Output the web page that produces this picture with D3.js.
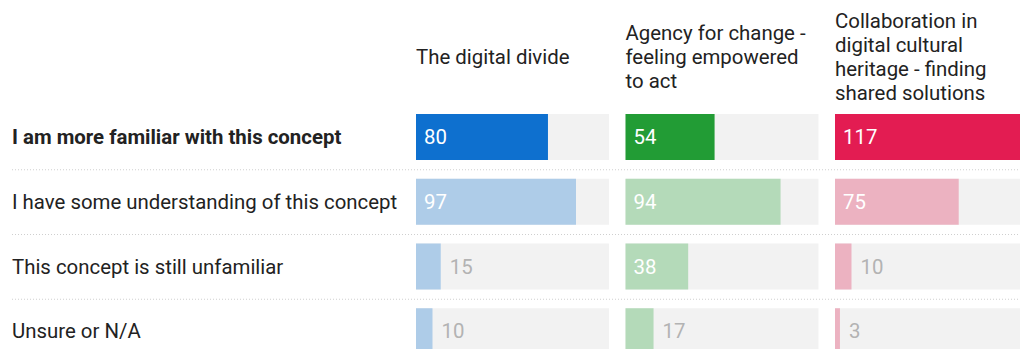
<!DOCTYPE html>
<html>
<head>
<meta charset="utf-8">
<script src="https://cdn.jsdelivr.net/npm/d3@7"></script>
<style>
  html, body { margin: 0; padding: 0; background: #fff; }
  svg { display: block; font-family: Roboto, "Noto Sans", sans-serif; }
</style>
</head>
<body>
<svg id="chart" width="1020" height="349"></svg>
<script>
// Survey responses: familiarity with each concept
const rows = [
  "I am more familiar with this concept",
  "I have some understanding of this concept",
  "This concept is still unfamiliar",
  "Unsure or N/A"
];
const columns = ["digital", "agency", "collab"];
const columnTitles = [
  ["The digital divide"],
  ["Agency for change -", "feeling empowered", "to act"],
  ["Collaboration in", "digital cultural", "heritage - finding", "shared solutions"]
];
const digitalDivide = [80, 97, 15, 10];
const agencyForChange = [54, 94, 38, 17];
const collaboration = [117, 75, 10, 3];
const strongColors = ["#0e70cf", "#229c35", "#e31c52"];
const lightColors = ["#aecce8", "#b4dab9", "#ecb2c1"];

const series = [digitalDivide, agencyForChange, collaboration];
const maxValue = d3.max(series.flat());

const svg = d3.select("#chart");
const W = 1020, H = 349;
const fontSize = 20.4;

const colX = d3.scaleBand()
  .domain(columns)
  .range([416, 1028])
  .paddingInner(0.0788)
  .paddingOuter(0);

const rowY = d3.scaleBand()
  .domain(rows)
  .range([104.5, 363.5]);

const barInset = 9.5, barH = 46;

const xVal = d3.scaleLinear()
  .domain([0, maxValue])
  .range([0, colX.bandwidth()]);

// Column headers, vertically centred on a common line
const headerMid = 57, lineH = 24;
columns.forEach((c, i) => {
  const lines = columnTitles[i];
  const t = svg.append("text")
    .attr("x", colX(c))
    .attr("font-size", fontSize)
    .attr("fill", "#222");
  lines.forEach((ln, j) => {
    t.append("tspan")
      .attr("x", colX(c))
      .attr("y", headerMid + (j - (lines.length - 1) / 2) * lineH)
      .attr("dy", "0.35em")
      .text(ln);
  });
});

// Dotted row separators
svg.selectAll("line.sep")
  .data(rows.slice(1))
  .join("line")
  .attr("class", "sep")
  .attr("x1", 12).attr("x2", W)
  .attr("y1", d => rowY(d) + 0.5)
  .attr("y2", d => rowY(d) + 0.5)
  .attr("stroke", "#cfcfcf")
  .attr("stroke-width", 1)
  .attr("stroke-dasharray", "1,2");

// Row labels
svg.selectAll("text.rowlabel")
  .data(rows)
  .join("text")
  .attr("class", "rowlabel")
  .attr("x", 12)
  .attr("y", d => rowY(d) + barInset + barH / 2)
  .attr("dy", "0.35em")
  .attr("font-size", fontSize)
  .attr("font-weight", (d, i) => i === 0 ? 700 : 400)
  .attr("fill", "#222")
  .text(d => d);

// Bars per column
columns.forEach((c, ci) => {
  const g = svg.append("g").attr("transform", `translate(${colX(c)},0)`);
  const data = series[ci].map((v, ri) => ({ v, ri, row: rows[ri] }));

  g.selectAll("rect.bg")
    .data(data)
    .join("rect")
    .attr("class", "bg")
    .attr("x", 0)
    .attr("y", d => rowY(d.row) + barInset)
    .attr("width", colX.bandwidth())
    .attr("height", barH)
    .attr("fill", "#f2f2f2");

  g.selectAll("rect.bar")
    .data(data)
    .join("rect")
    .attr("class", "bar")
    .attr("x", 0)
    .attr("y", d => rowY(d.row) + barInset)
    .attr("width", d => xVal(d.v))
    .attr("height", barH)
    .attr("fill", d => d.ri === 0 ? strongColors[ci] : lightColors[ci]);

  g.selectAll("text.val")
    .data(data)
    .join("text")
    .attr("class", "val")
    .attr("x", d => xVal(d.v) > 40 ? 8 : xVal(d.v) + 9)
    .attr("y", d => rowY(d.row) + barInset + barH / 2)
    .attr("dy", "0.35em")
    .attr("font-size", fontSize)
    .attr("fill", d => xVal(d.v) > 40 ? "#fff" : "#b3b3b3")
    .text(d => d.v);
});
</script>
</body>
</html>
